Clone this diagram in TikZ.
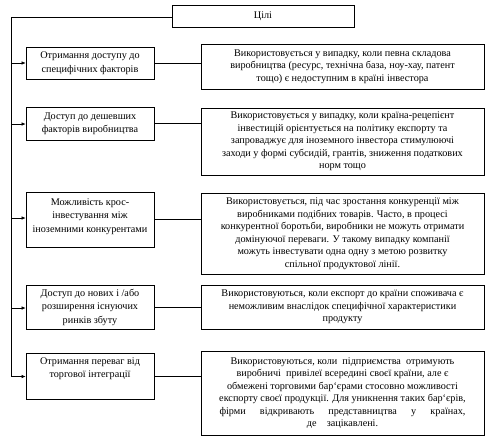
\documentclass[tikz,border=0pt]{standalone}
\usepackage{fontspec}
\setmainfont{Liberation Serif}
\usetikzlibrary{arrows.meta}
\begin{document}
\begin{tikzpicture}[x=1pt,y=1pt,
  box/.style={draw=black,line width=0.7pt,align=center,inner sep=1pt},
  lbox/.style={box,minimum width=128pt,font=\fontsize{10.2}{13.5}\selectfont},
  rbox/.style={box,minimum width=283pt,font=\fontsize{10.2}{12.5}\selectfont},
  ln/.style={line width=0.6pt},
  arr/.style={ln,-{Latex[length=4pt,width=3.5pt]}}]
\useasboundingbox (0,0) rectangle (489,-440);
\fill[white] (0,0) rectangle (489,-440);
% title
\node[box,font=\fontsize{10.2}{12}\selectfont,minimum width=182pt,minimum height=22pt] (title) at (263,-16) {Цілі};
% left boxes
\node[lbox,minimum height=32pt] (l1) at (90,-63) {Отримання доступу до\\специфічних факторів};
\node[lbox,minimum height=33pt] (l2) at (90,-123.5) {Доступ до дешевших\\факторів виробництва};
\node[lbox,minimum height=55pt] (l3) at (90,-219.5) {Можливість крос-\\інвестування між\\іноземними конкурентами\\[-5pt]\mbox{}};
\node[lbox,minimum height=44pt] (l4) at (90,-307) {Доступ до нових і /або\\розширення існуючих\\ринків збуту};
\node[lbox,minimum height=46pt] (l5) at (90,-376) {Отримання переваг від\\торгової інтеграції\\[3pt]\mbox{}};
% right boxes
\node[rbox,minimum height=45pt] (r1) at (342.5,-66.5) {Використовується у випадку, коли певна складова\\виробництва (ресурс, технічна база, ноу-хау, патент\\тощо) є недоступним в країні інвестора};
\node[rbox,minimum height=67pt] (r2) at (342.5,-141.5) {Використовується у випадку, коли країна-рецепієнт\\інвестицій орієнтується на політику експорту та\\запроваджує для іноземного інвестора стимулюючі\\заходи у формі субсидій, грантів, зниження податкових\\норм тощо};
\node[rbox,minimum height=81pt] (r3) at (342.5,-233.5) {Використовується, під час зростання конкуренції між\\виробниками подібних товарів. Часто, в процесі\\конкурентної боротьби, виробники не можуть отримати\\домінуючої переваги. У такому випадку компанії\\можуть інвестувати одна одну з метою розвитку\\спільної продуктової лінії.};
\node[rbox,minimum height=44pt] (r4) at (342.5,-307) {Використовуються, коли експорт до країни споживача є\\неможливим внаслідок специфічної характеристики\\продукту};
\node[rbox,minimum height=84pt] (r5) at (342.5,-393) {Використовуються, коли\ \ підприємства\ \ отримують\\виробничі\ \ привілеї всередині своєї країни, але є\\обмежені торговими бар‘єрами стосовно можливості\\експорту своєї продукції. Для уникнення таких бар‘єрів,\\\makebox[246pt][s]{фірми відкривають представництва у країнах,}\\де\quad зацікавлені.};
% trunk
\coordinate (top) at (11,-17);
\coordinate (t1) at (11,-63);
\coordinate (t2) at (11,-124);
\coordinate (t3) at (11,-218);
\coordinate (t4) at (11,-308);
\coordinate (t5) at (11,-376.5);
\draw[ln] (title.west |- top) -- (top) -- (t5);
\draw[arr] (t1) -- (l1.west |- t1);
\draw[arr] (t2) -- (l2.west |- t2);
\draw[arr] (t3) -- (l3.west |- t3);
\draw[arr] (t4) -- (l4.west |- t4);
\draw[arr] (t5) -- (l5.west |- t5);
% links
\draw[ln] (l1.east) -- (l1.east -| r1.west);
\draw[ln] (l2.east) -- (l2.east -| r2.west);
\draw[ln] (l3.east) -- (l3.east -| r3.west);
\draw[ln] (l4.east) -- (l4.east -| r4.west);
\draw[ln] (l5.east) -- (l5.east -| r5.west);
\end{tikzpicture}
\end{document}
